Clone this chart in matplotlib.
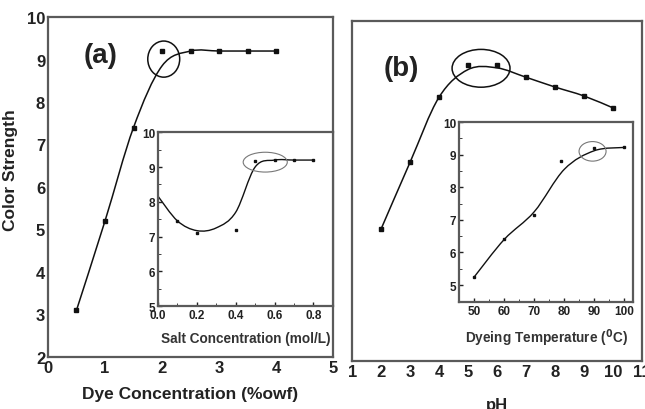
import numpy as np
import matplotlib
matplotlib.use("Agg")
import matplotlib.pyplot as plt
from matplotlib.path import Path
from matplotlib.patches import PathPatch, Ellipse

plt.rcParams['font.family'] = ['Liberation Sans', 'DejaVu Sans']
plt.rcParams['font.weight'] = 'bold'

# (a) dye concentration
dye_x = [0.5, 1.0, 1.5, 2.0, 2.5, 3.0, 3.5, 4.0]
dye_y = [3.1, 5.2, 7.4, 9.2, 9.2, 9.2, 9.2, 9.2]
dye_fit = [3.1, 5.2, 7.4, 8.85, 9.2, 9.2, 9.2, 9.2]

# (a) inset: salt concentration
salt_x = [0.1, 0.2, 0.4, 0.5, 0.6, 0.7, 0.8]
salt_y = [7.45, 7.1, 7.18, 9.17, 9.2, 9.2, 9.2]
salt_fit_x = [0.0, 0.1, 0.2, 0.3, 0.4, 0.5, 0.6, 0.7, 0.8]
salt_fit_y = [8.16, 7.45, 7.17, 7.25, 7.7, 9.0, 9.2, 9.2, 9.2]

# (b) pH
ph_x = [2, 3, 4, 5, 6, 7, 8, 9, 10]
ph_y = [5.11, 6.68, 8.21, 8.96, 8.96, 8.68, 8.45, 8.24, 7.96]
ph_fit = [5.11, 6.68, 8.21, 8.86, 8.9, 8.68, 8.45, 8.24, 7.96]

# (b) inset: dyeing temperature
temp_x = [50, 60, 70, 79, 90, 100]
temp_y = [5.25, 6.42, 7.15, 8.8, 9.2, 9.22]
temp_fit_x = [50, 60, 70, 80, 90, 100]
temp_fit_y = [5.25, 6.4, 7.25, 8.55, 9.12, 9.22]

TXT = '#222222'
FRAME = '#5a5a5a'


def smooth_path(x, y):
    # catmull-rom through the points, drawn as bezier segments
    pts = np.column_stack([x, y]).astype(float)
    n = len(pts)
    verts = [pts[0]]
    codes = [Path.MOVETO]
    for i in range(n - 1):
        p0 = pts[max(i - 1, 0)]
        p1 = pts[i]
        p2 = pts[i + 1]
        p3 = pts[min(i + 2, n - 1)]
        verts += [p1 + (p2 - p0) / 6, p2 - (p3 - p1) / 6, p2]
        codes += [Path.CURVE4] * 3
    return Path(verts, codes)


def style(ax, fs, ticks=True):
    for s in ax.spines.values():
        s.set_color(FRAME)
        s.set_linewidth(1.6)
    ax.tick_params(colors=TXT, labelsize=fs, direction='in',
                   length=3 if ticks else 0, width=1, pad=2)
    for lab in ax.get_xticklabels() + ax.get_yticklabels():
        lab.set_fontweight('bold')


fig = plt.figure(figsize=(6.45, 4.1), dpi=100)

# ---- panel (a)
axa = fig.add_axes([0.0744, 0.127, 0.442, 0.829])
axa.add_patch(PathPatch(smooth_path(dye_x, dye_fit), fill=False, lw=1.1, color='#111111'))
axa.plot(dye_x, dye_y, 's', ms=3.5, color='#111111')
axa.add_patch(Ellipse((2.03, 9.01), 0.56, 0.85, fill=False, lw=1.1, color='#111111'))
axa.set_xlim(0, 5)
axa.set_ylim(2, 10)
axa.set_xticks(range(0, 6))
axa.set_yticks(range(2, 11))
style(axa, 12, ticks=False)
axa.set_xlabel('Dye Concentration (%owf)', fontsize=12.5, fontweight='bold', color=TXT, labelpad=8)
axa.set_ylabel('Color Strength', fontsize=12.5, fontweight='bold', color=TXT)
axa.yaxis.set_label_coords(-0.105, 0.553)
axa.text(0.62, 9.1, '(a)', fontsize=20, fontweight='bold', color=TXT, va='center')

ina = fig.add_axes([0.245, 0.251, 0.271, 0.424])
ina.add_patch(PathPatch(smooth_path(salt_fit_x, salt_fit_y), fill=False, lw=1.0, color='#111111'))
ina.plot(salt_x, salt_y, 's', ms=2, color='#111111')
ina.add_patch(Ellipse((0.552, 9.14), 0.227, 0.57, fill=False, lw=0.8, color='#777777'))
ina.set_xlim(0, 0.9)
ina.set_ylim(5, 10)
ina.set_xticks([0.0, 0.2, 0.4, 0.6, 0.8])
ina.set_xticklabels(['0.0', '0.2', '0.4', '0.6', '0.8'])
ina.set_xticks(np.arange(0.1, 0.9, 0.2), minor=True)
ina.set_yticks(range(5, 11))
ina.set_yticks(np.arange(5.5, 10, 1), minor=True)
style(ina, 8.5)
ina.tick_params(which='minor', direction='in', length=2, color=TXT)
ina.set_xlabel('Salt Concentration (mol/L)', fontsize=9.8, fontweight='bold', color='#333333', labelpad=7)

# ---- panel (b)
axb = fig.add_axes([0.546, 0.117, 0.449, 0.829])
axb.add_patch(PathPatch(smooth_path(ph_x, ph_fit), fill=False, lw=1.1, color='#111111'))
axb.plot(ph_x, ph_y, 's', ms=3.5, color='#111111')
axb.add_patch(Ellipse((5.45, 8.89), 2.0, 0.89, fill=False, lw=1.1, color='#111111'))
axb.set_xlim(1, 11)
axb.set_ylim(2, 10)
axb.set_xticks(range(1, 12))
axb.set_yticks([])
style(axb, 12, ticks=False)
axb.set_xlabel('pH', fontsize=12, fontweight='bold', color=TXT, labelpad=13)
axb.text(2.1, 8.9, '(b)', fontsize=20, fontweight='bold', color=TXT, va='center')

inb = fig.add_axes([0.712, 0.261, 0.270, 0.439])
inb.add_patch(PathPatch(smooth_path(temp_fit_x, temp_fit_y), fill=False, lw=1.0, color='#111111'))
inb.plot(temp_x, temp_y, 's', ms=2, color='#111111')
inb.add_patch(Ellipse((89.4, 9.1), 9.0, 0.6, fill=False, lw=0.8, color='#777777'))
inb.set_xlim(45, 103)
inb.set_ylim(4.48, 10)
inb.set_xticks(range(50, 101, 10))
inb.set_xticks(range(55, 101, 10), minor=True)
inb.set_yticks(range(5, 11))
inb.set_yticks(np.arange(5.5, 10, 1), minor=True)
style(inb, 8.5)
inb.tick_params(which='minor', direction='in', length=2, color=TXT)
inb.set_xlabel('Dyeing Temperature ($^{0}$C)', fontsize=9.8, fontweight='bold', color='#333333', labelpad=7)

fig.savefig('out.png', dpi=100)
